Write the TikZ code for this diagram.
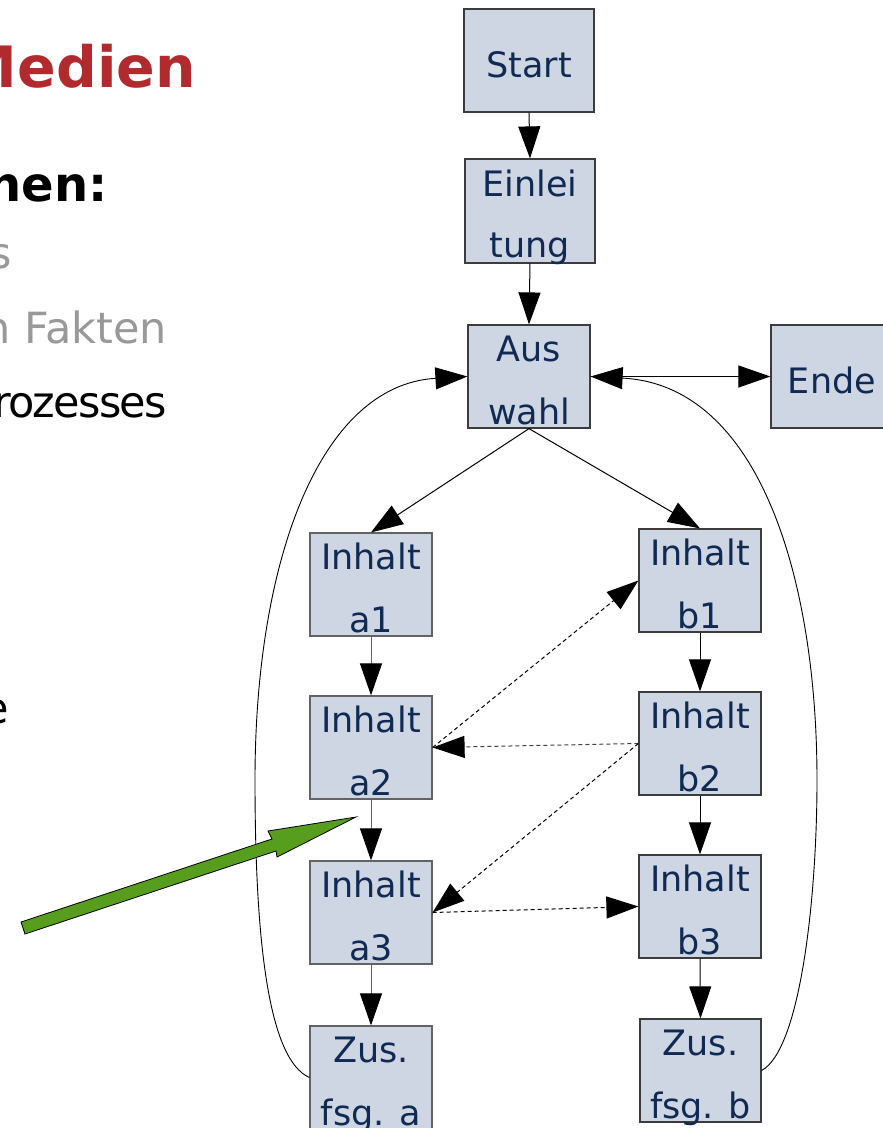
\documentclass[tikz,border=0pt]{standalone}
\usepackage{fontspec}
\setmainfont{DejaVu Sans}
\usetikzlibrary{arrows.meta, positioning, calc}
\definecolor{boxfill}{RGB}{206,214,227}
\definecolor{boxtext}{RGB}{16,42,84}
\definecolor{boxline}{RGB}{60,60,60}
\definecolor{titlered}{RGB}{176,42,46}
\definecolor{greytext}{RGB}{153,153,153}
\definecolor{pointgreen}{RGB}{88,158,30}
\newcommand{\flowfont}{\fontsize{35pt}{42pt}\selectfont}
\newcommand{\slidefont}{\fontsize{43pt}{52pt}\selectfont}
\tikzset{
  flowbox/.style={
    draw=boxline,
    line width=1.2pt,
    fill=boxfill,
    minimum width=122pt,
    minimum height=103pt,
    inner sep=0pt
  },
  boxlabel/.style={
    anchor=base,
    inner sep=0pt,
    font=\flowfont,
    text=boxtext
  },
  slidetext/.style={
    anchor=base east,
    inner sep=0pt,
    font=\slidefont
  },
  flow/.style={
    -{Triangle[length=32pt,width=22pt,color=black]},
    line width=1pt,
    draw=black
  },
  jump/.style={
    flow,
    dash pattern=on 4pt off 3pt
  },
  loopback/.style={
    -{Triangle[length=32pt,width=22pt]},
    line width=0.9pt
  }
}

\begin{document}
\begin{tikzpicture}[x=1pt, y=-1pt]
  \useasboundingbox (0,0) rectangle (883,1128);
  \clip (0,0) rectangle (883,1128);

  % slide text, cut off at the left edge
  \node[slidetext, font=\fontsize{57pt}{64pt}\selectfont\bfseries, text=titlered] (title) at (196,87) {Medien};
  \node[slidetext, font=\fontsize{48pt}{56pt}\selectfont\bfseries] (head) at (108,201) {nen:};
  \node[slidetext, text=greytext] (item1) at (12,268) {s};
  \node[slidetext, text=greytext] (item2) at (167,343) {n Fakten};
  \node[slidetext, font=\slidefont\addfontfeature{LetterSpace=-4}] (item3) at (167,417) {rozesses};
  \node[slidetext] (item4) at (9,723) {e};

  % boxes
  \node[flowbox, minimum width=130pt] (start) at (529,60.5) {};
  \node[flowbox, minimum width=130pt, minimum height=104pt] (einl) at (530,211) {};
  \node[flowbox] (aus) at (529,376.5) {};
  \node[flowbox] (ende) at (832,376.5) {};
  \node[flowbox, draw=boxline!80] (a1) at (371,584.5) {};
  \node[flowbox, draw=boxline!80] (a2) at (371,747.5) {};
  \node[flowbox, draw=boxline!80] (a3) at (371,912.5) {};
  \node[flowbox, draw=boxline!80] (zusa) at (371,1077.5) {};
  \node[flowbox] (b1) at (700,580.5) {};
  \node[flowbox] (b2) at (700,743.5) {};
  \node[flowbox] (b3) at (700,906.5) {};
  \node[flowbox, minimum width=121pt] (zusb) at (700.5,1070.5) {};

  % box texts
  \node[boxlabel] (start-t) at ([yshift=-69pt]start.north) {Start};
  \node[boxlabel] (einl-u) at ([yshift=-38pt]einl.north) {Einlei};
  \node[boxlabel] (einl-l) at ([yshift=-99pt]einl.north) {tung};
  \node[boxlabel] (aus-u) at ([yshift=-37pt]aus.north) {Aus};
  \node[boxlabel] (aus-l) at ([yshift=-100pt]aus.north) {wahl};
  \node[boxlabel] (ende-t) at ([yshift=-69pt]ende.north) {Ende};
  \node[boxlabel] (a1-u) at ([yshift=-37pt]a1.north) {Inhalt};
  \node[boxlabel] (a1-l) at ([yshift=-100pt]a1.north) {a1};
  \node[boxlabel] (a2-u) at ([yshift=-37pt]a2.north) {Inhalt};
  \node[boxlabel] (a2-l) at ([yshift=-100pt]a2.north) {a2};
  \node[boxlabel] (a3-u) at ([yshift=-37pt]a3.north) {Inhalt};
  \node[boxlabel] (a3-l) at ([yshift=-100pt]a3.north) {a3};
  \node[boxlabel] (zusa-u) at ([yshift=-37pt]zusa.north) {Zus.};
  \node[boxlabel] (zusa-l) at ([yshift=-100pt]zusa.north) {fsg. a};
  \node[boxlabel] (b1-u) at ([yshift=-37pt]b1.north) {Inhalt};
  \node[boxlabel] (b1-l) at ([yshift=-100pt]b1.north) {b1};
  \node[boxlabel] (b2-u) at ([yshift=-37pt]b2.north) {Inhalt};
  \node[boxlabel] (b2-l) at ([yshift=-100pt]b2.north) {b2};
  \node[boxlabel] (b3-u) at ([yshift=-37pt]b3.north) {Inhalt};
  \node[boxlabel] (b3-l) at ([yshift=-100pt]b3.north) {b3};
  \node[boxlabel] (zusb-u) at ([yshift=-37pt]zusb.north) {Zus.};
  \node[boxlabel] (zusb-l) at ([yshift=-100pt]zusb.north) {fsg. b};

  % main flow
  \draw[flow] (start.south) -- (einl.north);
  \draw[flow] (einl.south) -- (aus.north);
  \draw[flow] (aus.east) -- (ende.west);
  \draw[flow] (aus.south) -- (a1.north);
  \draw[flow] (aus.south) -- (b1.north);
  \draw[flow, draw=black!60] (a1.south) -- (a2.north);
  \draw[flow, draw=black!60] (a2.south) -- (a3.north);
  \draw[flow, draw=black!60] (a3.south) -- (zusa.north);
  \draw[flow] (b1.south) -- (b2.north);
  \draw[flow] (b2.south) -- (b3.north);
  \draw[flow] (b3.south) -- (zusb.north);

  % cross links
  \draw[jump] (a2.east) -- (b1.west);
  \draw[jump, draw=black!75] (b2.west) -- (a2.east);
  \draw[jump] (b2.west) -- (a3.east);
  \draw[jump] (a3.east) -- (b3.west);

  % back to the choice
  \coordinate (leftmost) at (255,780);
  \coordinate (rightmost) at (817,780);
  \draw[loopback] (zusa.west) .. controls (270,1060) and (255,950) .. (leftmost)
    .. controls (255,560) and (320,385) .. (aus.west);
  \draw[loopback] (zusb.east) .. controls (800,1050) and (817,900) .. (rightmost)
    .. controls (817,580) and (760,385) .. (aus.east);

  % green pointer
  \draw[fill=pointgreen, draw=black, line width=0.8pt]
    (21,922) -- (272,839) -- (268,831) -- (356,817) -- (277,857) -- (276,851) -- (25,934) -- cycle;
\end{tikzpicture}
\end{document}
